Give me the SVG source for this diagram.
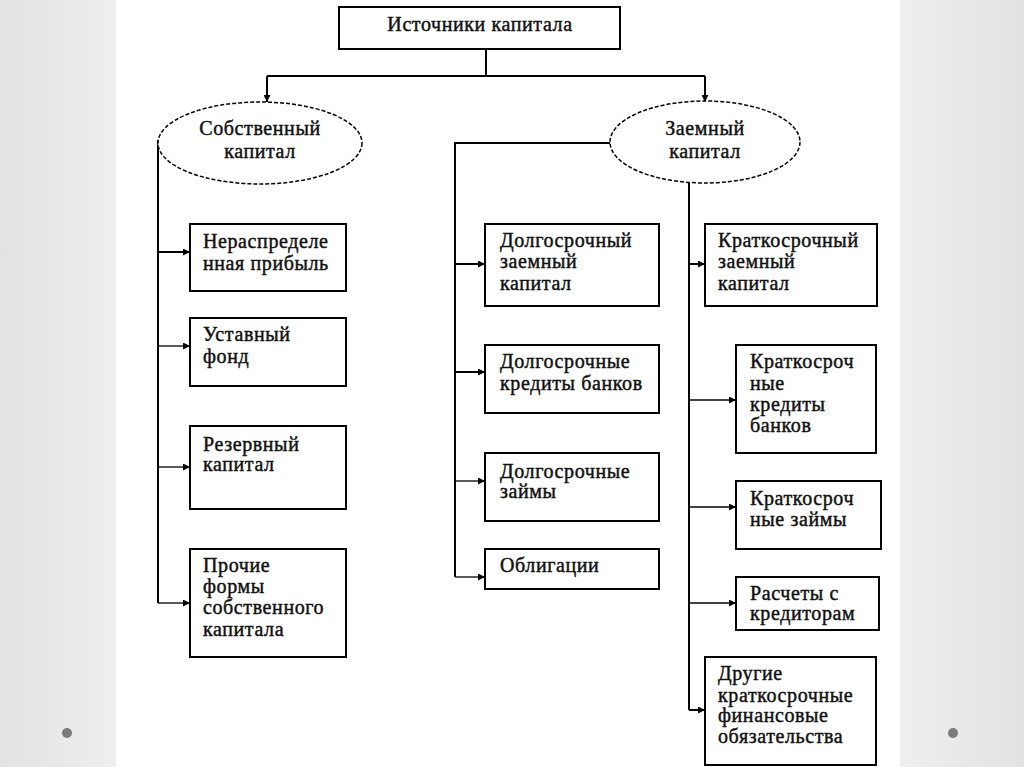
<svg xmlns="http://www.w3.org/2000/svg" width="1024" height="767" viewBox="0 0 1024 767">
<defs>
<linearGradient id="gl" x1="0" y1="0" x2="1" y2="0"><stop offset="0" stop-color="#e2e2e2"/><stop offset="1" stop-color="#efefef"/></linearGradient>
<linearGradient id="gr" x1="0" y1="0" x2="1" y2="0"><stop offset="0" stop-color="#efefef"/><stop offset="1" stop-color="#e2e2e2"/></linearGradient>
<marker id="ah" viewBox="0 0 10 10" refX="10" refY="5" markerWidth="9" markerHeight="7" markerUnits="userSpaceOnUse" orient="auto"><path d="M0,0 L10,5 L0,10 z" fill="#000"/></marker>
</defs>
<style>
.box{fill:#fff;stroke:#000;stroke-width:2}
.ell{fill:#fff;stroke:#000;stroke-width:1.5;stroke-dasharray:4 2}
.t{font-family:"Liberation Serif","Times New Roman",serif;font-size:20px;fill:#111;stroke:#111;stroke-width:0.45;letter-spacing:0.6px}
.c{text-anchor:middle}
.ln{fill:none;stroke:#000;stroke-width:2}
.lt{fill:none;stroke:#000;stroke-width:1.3}
</style>
<rect x="0" y="0" width="1024" height="767" fill="#fff"/>
<rect x="0" y="0" width="116" height="767" fill="url(#gl)"/>
<rect x="900" y="0" width="124" height="767" fill="url(#gr)"/>
<circle cx="67" cy="733" r="5" fill="#7a7a7a"/>
<circle cx="953" cy="733" r="5" fill="#7a7a7a"/>

<g id="connectors">
<path class="ln" d="M486,49 V76 M267,76 H705"/>
<path class="ln" d="M267,76 V102" marker-end="url(#ah)"/>
<path class="ln" d="M705,76 V102" marker-end="url(#ah)"/>
<path class="ln" d="M158,140 V603"/>
<path class="ln" d="M158,252 H190" marker-end="url(#ah)"/>
<path class="lt" d="M158,346 H190" marker-end="url(#ah)"/>
<path class="lt" d="M158,467 H190" marker-end="url(#ah)"/>
<path class="lt" d="M158,603 H190" marker-end="url(#ah)"/>
<path class="ln" d="M610,143 H455 V577"/>
<path class="ln" d="M455,264 H485" marker-end="url(#ah)"/>
<path class="ln" d="M455,372 H485" marker-end="url(#ah)"/>
<path class="lt" d="M455,481 H485" marker-end="url(#ah)"/>
<path class="lt" d="M455,577 H485" marker-end="url(#ah)"/>
<path class="ln" d="M689,183 V710"/>
<path class="ln" d="M689,264 H705" marker-end="url(#ah)"/>
<path class="lt" d="M689,400 H736" marker-end="url(#ah)"/>
<path class="lt" d="M689,507 H736" marker-end="url(#ah)" stroke="#777" stroke-width="2"/>
<path class="lt" d="M689,603 H736" marker-end="url(#ah)"/>
<path class="ln" d="M689,710 H705" marker-end="url(#ah)"/>
</g>

<g id="root"><rect class="box" x="339" y="7" width="281" height="42"/><text class="t c" x="480" y="31">Источники капитала</text></g>

<g id="own"><ellipse class="ell" cx="260" cy="143" rx="102" ry="41"/><text class="t c" x="260" y="135">Собственный</text><text class="t c" x="260" y="158">капитал</text></g>
<g id="borrowed"><ellipse class="ell" cx="705" cy="142" rx="95" ry="41"/><text class="t c" x="705" y="135">Заемный</text><text class="t c" x="705" y="158">капитал</text></g>

<g id="n1"><rect class="box" x="190" y="224" width="156" height="67"/><text class="t" x="203" y="248">Нераспределе</text><text class="t" x="203" y="270">нная прибыль</text></g>
<g id="n2"><rect class="box" x="190" y="318" width="156" height="68"/><text class="t" x="203" y="341">Уставный</text><text class="t" x="203" y="363">фонд</text></g>
<g id="n3"><rect class="box" x="190" y="426" width="156" height="83"/><text class="t" x="203" y="451">Резервный</text><text class="t" x="203" y="471">капитал</text></g>
<g id="n4"><rect class="box" x="190" y="549" width="156" height="108"/><text class="t" x="203" y="572">Прочие</text><text class="t" x="203" y="593">формы</text><text class="t" x="203" y="614">собственного</text><text class="t" x="203" y="636">капитала</text></g>

<g id="m1"><rect class="box" x="485" y="224" width="174" height="82"/><text class="t" x="500" y="247">Долгосрочный</text><text class="t" x="500" y="268">заемный</text><text class="t" x="500" y="290">капитал</text></g>
<g id="m2"><rect class="box" x="485" y="345" width="174" height="68"/><text class="t" x="500" y="368">Долгосрочные</text><text class="t" x="500" y="390">кредиты банков</text></g>
<g id="m3"><rect class="box" x="485" y="453" width="174" height="68"/><text class="t" x="500" y="478">Долгосрочные</text><text class="t" x="500" y="498">займы</text></g>
<g id="m4"><rect class="box" x="485" y="549" width="174" height="40"/><text class="t" x="500" y="572">Облигации</text></g>

<g id="r1"><rect class="box" x="705" y="224" width="172" height="82"/><text class="t" x="718" y="247">Краткосрочный</text><text class="t" x="718" y="268">заемный</text><text class="t" x="718" y="290">капитал</text></g>
<g id="r2"><rect class="box" x="736" y="345" width="140" height="108"/><text class="t" x="750" y="368">Краткосроч</text><text class="t" x="750" y="390">ные</text><text class="t" x="750" y="411">кредиты</text><text class="t" x="750" y="432">банков</text></g>
<g id="r3"><rect class="box" x="736" y="481" width="145" height="68"/><text class="t" x="750" y="505">Краткосроч</text><text class="t" x="750" y="526">ные займы</text></g>
<g id="r4"><rect class="box" x="736" y="577" width="143" height="53"/><text class="t" x="750" y="600">Расчеты с</text><text class="t" x="750" y="620">кредиторам</text></g>
<g id="r5"><rect class="box" x="705" y="657" width="171" height="108"/><text class="t" x="718" y="680">Другие</text><text class="t" x="718" y="702">краткосрочные</text><text class="t" x="718" y="722">финансовые</text><text class="t" x="718" y="743">обязательства</text></g>
</svg>
